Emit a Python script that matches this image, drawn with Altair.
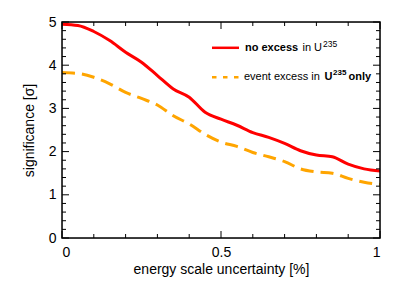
import altair as alt
import pandas as pd

# data
x_vals = [0.0, 0.05, 0.1, 0.15, 0.2, 0.25, 0.3, 0.35, 0.4, 0.45, 0.5,
          0.55, 0.6, 0.65, 0.7, 0.75, 0.8, 0.85, 0.9, 0.95, 1.0]
no_excess = [4.95, 4.92, 4.78, 4.57, 4.30, 4.07, 3.76, 3.45, 3.26, 2.91, 2.75,
             2.61, 2.44, 2.33, 2.19, 2.02, 1.92, 1.88, 1.71, 1.60, 1.55]
u235_only = [3.83, 3.81, 3.72, 3.57, 3.37, 3.23, 3.08, 2.83, 2.64, 2.40, 2.22,
             2.12, 1.98, 1.88, 1.77, 1.60, 1.53, 1.50, 1.38, 1.29, 1.24]

x_major = [0, 0.5, 1]
x_minor = [0.1, 0.2, 0.3, 0.4, 0.6, 0.7, 0.8, 0.9]
y_major = [0, 1, 2, 3, 4, 5]
y_minor = [0.2, 0.4, 0.6, 0.8, 1.2, 1.4, 1.6, 1.8, 2.2, 2.4, 2.6, 2.8,
           3.2, 3.4, 3.6, 3.8, 4.2, 4.4, 4.6, 4.8]

W, H = 318, 216
FONT = "Liberation Sans"

xs = alt.Scale(domain=[0, 1], nice=False)
ys = alt.Scale(domain=[0, 5], nice=False)

df = pd.DataFrame({"x": x_vals, "a": no_excess, "b": u235_only})

xaxis = alt.Axis(values=x_major, format="~g", ticks=False, grid=False, domain=False,
                 labelFontSize=14, labelFont=FONT, labelColor="black", labelPadding=7,
                 title="energy scale uncertainty [%]", titleFont=FONT, titleFontSize=14,
                 titleFontWeight="normal", titleColor="black", titlePadding=3)
yaxis = alt.Axis(values=y_major, ticks=False, grid=False, domain=False,
                 labelFontSize=14, labelFont=FONT, labelColor="black", labelPadding=6,
                 title="significance [σ]", titleFont=FONT, titleFontSize=14,
                 titleFontWeight="normal", titleColor="black", titlePadding=12)

base = alt.Chart(df)
red = base.mark_line(color="#ff0000", strokeWidth=3, interpolate="monotone").encode(
    x=alt.X("x:Q", scale=xs, axis=xaxis),
    y=alt.Y("a:Q", scale=ys, axis=yaxis),
)
orange = base.mark_line(color="#ffa500", strokeWidth=3, strokeDash=[13, 7],
                        interpolate="monotone").encode(
    x=alt.X("x:Q", scale=xs),
    y=alt.Y("b:Q", scale=ys),
)

def xticks(vals, length):
    d = alt.Chart(pd.DataFrame({"v": vals}))
    bot = d.mark_rule(color="black", strokeWidth=1).encode(
        x=alt.X("v:Q", scale=xs), y=alt.value(H), y2=alt.value(H - length))
    top = d.mark_rule(color="black", strokeWidth=1).encode(
        x=alt.X("v:Q", scale=xs), y=alt.value(0), y2=alt.value(length))
    return [bot, top]

def yticks(vals, length):
    d = alt.Chart(pd.DataFrame({"v": vals}))
    lft = d.mark_rule(color="black", strokeWidth=1).encode(
        y=alt.Y("v:Q", scale=ys), x=alt.value(0), x2=alt.value(length))
    rgt = d.mark_rule(color="black", strokeWidth=1).encode(
        y=alt.Y("v:Q", scale=ys), x=alt.value(W), x2=alt.value(W - length))
    return [lft, rgt]

ticks = xticks(x_major, 7) + xticks(x_minor, 4) + yticks(y_major, 7) + yticks(y_minor, 4)

# legend
leg = alt.Chart(pd.DataFrame({"k": [0]}))
l1 = leg.mark_rule(color="#ff0000", strokeWidth=2.5).encode(
    x=alt.value(150), x2=alt.value(177), y=alt.value(25.8))
l2 = leg.mark_rule(color="#ffa500", strokeWidth=2.5, strokeDash=[4.5, 6.5]).encode(
    x=alt.value(150), x2=alt.value(177), y=alt.value(55.2))

def txt(s, x, y, bold=False, size=11):
    return leg.mark_text(align="left", baseline="alphabetic", font=FONT, fontSize=size,
                         fontWeight="bold" if bold else "normal", color="black").encode(
        x=alt.value(x), y=alt.value(y), text=alt.value(s))

t = [
    txt("no excess", 183, 29, bold=True),
    txt("in U", 240.5, 29),
    txt("235", 261, 24.5, size=8.5),
    txt("event excess in", 182, 58),
    txt("U", 262.5, 58, bold=True),
    txt("235", 271, 53, bold=True, size=8),
    txt("only", 286.5, 58, bold=True),
]

frame = leg.mark_rect(fill=None, stroke="black", strokeWidth=1.5).encode(
    x=alt.value(0), x2=alt.value(W), y=alt.value(0), y2=alt.value(H))

chart = alt.layer(red, orange, *ticks, l1, l2, *t, frame).properties(
    width=W, height=H,
    autosize=alt.AutoSizeParams(type="none"),
    padding={"left": 54, "top": 14, "right": 20, "bottom": 43},
).configure_view(stroke=None).configure(background="white")

chart.save("out.html", embed_options={"renderer": "svg", "actions": False})
